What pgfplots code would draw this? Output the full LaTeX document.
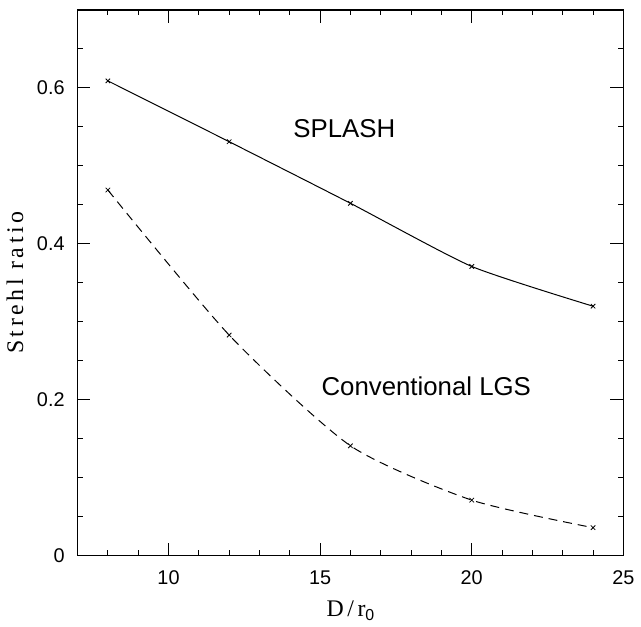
\documentclass[border=0pt]{standalone}
\usepackage{pgfplots}
\pgfplotsset{compat=1.18}
\usepackage{fontspec}
\setmainfont{Liberation Sans}
\newfontfamily\labelfont[LetterSpace=15]{Liberation Serif}

\begin{document}
\begin{tikzpicture}
  \begin{axis}[
      scale only axis,
      width=275pt, height=275pt,
      xmin=7, xmax=25, ymin=0, ymax=0.7,
      xtick={10,15,20,25},
      ytick={0,0.2,0.4,0.6},
      yticklabels={0,0.2,0.4,0.6},
      minor xtick={8,9,11,12,13,14,16,17,18,19,21,22,23,24},
      minor ytick={0.05,0.1,0.15,0.25,0.3,0.35,0.45,0.5,0.55,0.65},
      tick align=inside,
      major tick length=6.5pt,
      minor tick length=2.8pt,
      every tick/.style={black, line width=0.5pt},
      axis line style={line width=0.7pt},
      tick label style={font=\fontsize{10}{12}\selectfont},
      xticklabel style={yshift=-4pt},
      yticklabel style={xshift=-3pt},
      /pgf/number format/assume math mode=true,
      xlabel={\labelfont D/r\raisebox{-2pt}{\fontsize{8}{9}\selectfont\normalfont 0}},
      ylabel={\labelfont Strehl ratio},
      xlabel style={yshift=-1pt},
      label style={font=\fontsize{12}{13}\selectfont},
      clip=false,
    ]
    \addplot[black, line width=0.5pt, smooth, tension=0.35, mark=x, mark size=1.6pt,
      mark options={line width=0.4pt}] coordinates {
      (8,0.609) (12,0.531) (16,0.452) (20,0.371) (24,0.320)};
    \addplot[black, line width=0.5pt, dash pattern=on 4.5pt off 3pt, smooth, tension=0.4, mark=x, mark size=1.6pt,
      mark options={solid, line width=0.4pt}] coordinates {
      (8,0.469) (12,0.283) (16,0.141) (20,0.0713) (24,0.036)};
    \node[font=\fontsize{13}{15}\selectfont] at (axis cs:15.8,0.548) {SPLASH};
    \node[font=\fontsize{13}{15}\selectfont] at (axis cs:18.5,0.217) {Conventional LGS};
  \end{axis}
  \path ([shift={(-38.5pt,-30pt)}]current axis.south west) rectangle ([shift={(7pt,5pt)}]current axis.north east);
\end{tikzpicture}
\end{document}
